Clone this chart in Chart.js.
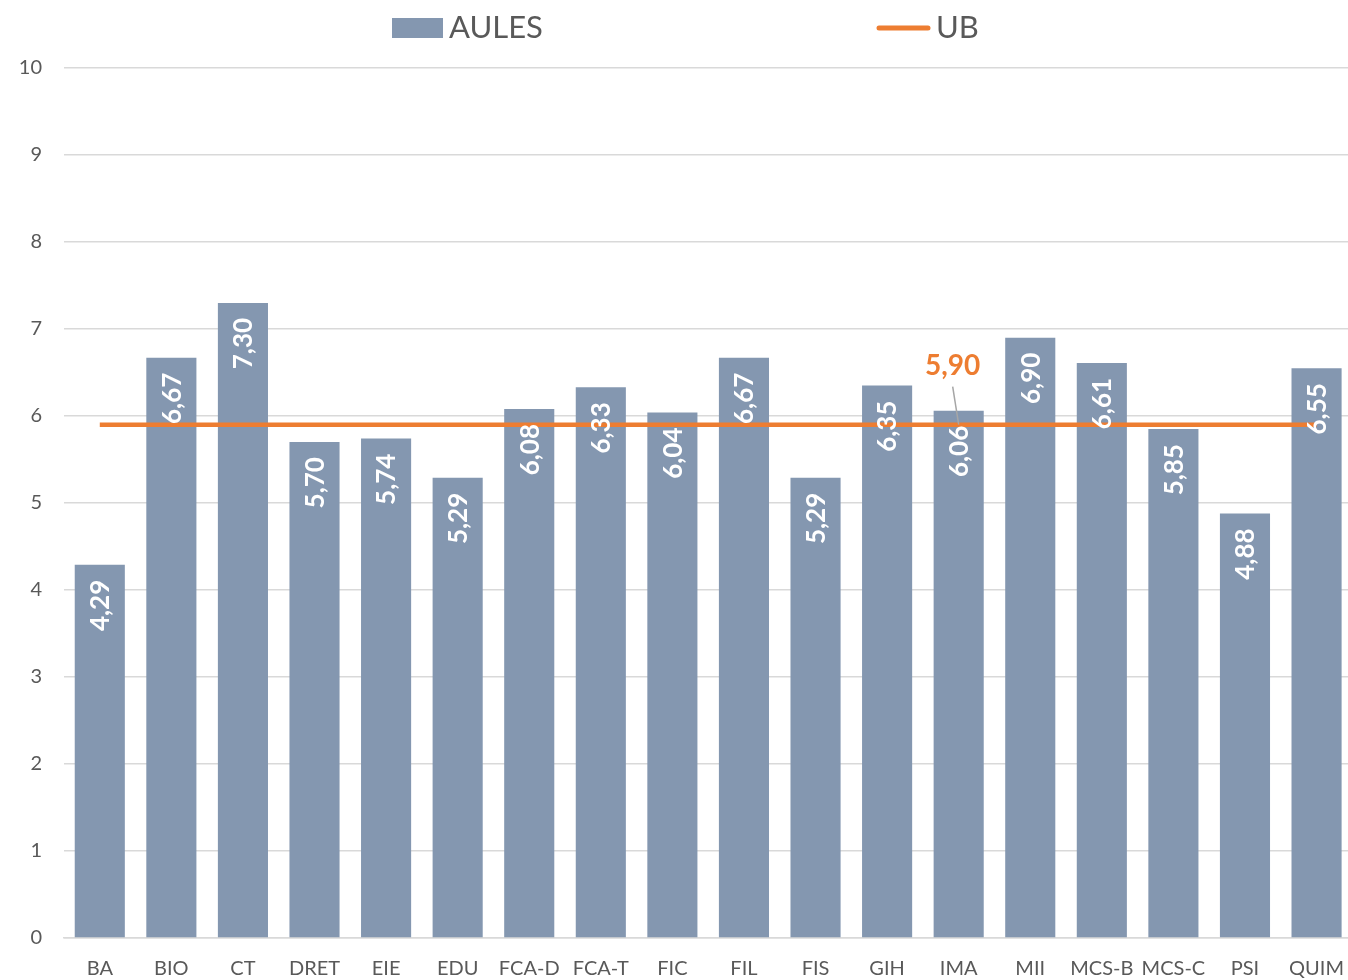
<!DOCTYPE html>
<html lang="ca">
<head>
    <meta charset="UTF-8">
    <title>AULES vs UB</title>
    <script src="https://cdn.jsdelivr.net/npm/chart.js@4/dist/chart.umd.min.js"></script>
    <style>
        html, body { margin: 0; padding: 0; background: #fff; overflow: hidden; }
        .graf { width: 1348px; height: 980px; overflow: hidden; }
    </style>
</head>
<body>
    <div class="graf">
        <!-- una mica més ample: a l'original l'àrea del gràfic surt del marge dret -->
        <canvas id="canvas_grafico" width="1355" height="980"></canvas>
    </div>

<script>
    // dades llegides del gràfic
    const categories = ['BA', 'BIO', 'CT', 'DRET', 'EIE', 'EDU', 'FCA-D', 'FCA-T', 'FIC',
        'FIL', 'FIS', 'GIH', 'IMA', 'MII', 'MCS-B', 'MCS-C', 'PSI', 'QUIM'];
    const aules = [4.29, 6.67, 7.30, 5.70, 5.74, 5.29, 6.08, 6.33, 6.04,
        6.67, 5.29, 6.35, 6.06, 6.90, 6.61, 5.85, 4.88, 6.55];
    const ub = [5.90, 5.90, 5.90, 5.90, 5.90, 5.90, 5.90, 5.90, 5.90,
        5.90, 5.90, 5.90, 5.90, 5.90, 5.90, 5.90, 5.90, 5.90];
    const ubEtiquetaIdx = 12; // on surt l'etiqueta "5,90"

    const FONT = 'Lato, "Open Sans", sans-serif';
    const GRIS = '#595959';

    function coma(v) {
        return v.toFixed(2).replace('.', ',');
    }

    // etiquetes dins les barres + etiqueta de la línia + llegenda
    const etiquetes = {
        id: 'etiquetes',
        afterDatasetsDraw(chart) {
            const ctx = chart.ctx;
            const metaBar = chart.getDatasetMeta(0);
            ctx.save();
            ctx.fillStyle = '#ffffff';
            ctx.font = 'bold 26px ' + FONT;
            ctx.textAlign = 'right';
            ctx.textBaseline = 'middle';
            metaBar.data.forEach(function (bar, i) {
                ctx.save();
                ctx.translate(bar.x + 1, bar.y + 15);
                ctx.rotate(-Math.PI / 2);
                ctx.fillText(coma(aules[i]), 0, 0);
                ctx.restore();
            });

            // etiqueta UB amb línia guia
            const pt = chart.getDatasetMeta(1).data[ubEtiquetaIdx];
            ctx.strokeStyle = '#A6A6A6';
            ctx.lineWidth = 1.5;
            ctx.beginPath();
            ctx.moveTo(pt.x - 6, pt.y - 38);
            ctx.lineTo(pt.x, pt.y);
            ctx.stroke();
            ctx.fillStyle = '#ED7D31';
            ctx.font = 'bold 28px ' + FONT;
            ctx.textAlign = 'center';
            ctx.textBaseline = 'middle';
            ctx.fillText(coma(ub[ubEtiquetaIdx]), pt.x - 6, pt.y - 59);
            ctx.restore();

            // llegenda
            ctx.save();
            ctx.font = '31px ' + FONT;
            ctx.textBaseline = 'middle';
            ctx.textAlign = 'left';
            ctx.fillStyle = '#8497B0';
            ctx.fillRect(392, 18, 51, 20);
            ctx.fillStyle = GRIS;
            ctx.fillText(chart.data.datasets[0].label, 449, 28);
            ctx.strokeStyle = '#ED7D31';
            ctx.lineWidth = 5;
            ctx.lineCap = 'round';
            ctx.beginPath();
            ctx.moveTo(879, 28);
            ctx.lineTo(928, 28);
            ctx.stroke();
            ctx.fillText(chart.data.datasets[1].label, 936, 28);
            ctx.restore();
        }
    };

    const config = {
        type: 'bar',
        data: {
            labels: categories,
            datasets: [
                {
                    label: 'AULES',
                    data: aules,
                    backgroundColor: '#8497B0',
                    barPercentage: 0.7,
                    categoryPercentage: 1,
                    order: 1
                },
                {
                    type: 'line',
                    label: 'UB',
                    data: ub,
                    borderColor: '#ED7D31',
                    backgroundColor: '#ED7D31',
                    borderWidth: 4.5,
                    pointRadius: 0,
                    order: 0
                }
            ]
        },
        options: {
            responsive: false,
            animation: false,
            layout: { padding: { top: 68, right: 0, left: 0, bottom: 0 } },
            plugins: {
                legend: { display: false },
                tooltip: { enabled: false }
            },
            scales: {
                x: {
                    grid: { display: false },
                    border: { display: true, color: '#D9D9D9', width: 1.5 },
                    ticks: { color: GRIS, font: { family: FONT, size: 20 }, padding: 11, maxRotation: 0, autoSkip: false },
                    afterFit: function (s) { s.height = 42; }
                },
                y: {
                    min: 0,
                    max: 10,
                    ticks: { stepSize: 1, color: GRIS, font: { family: FONT, size: 20 }, padding: 22 },
                    grid: { color: '#D9D9D9', lineWidth: 1.5, drawTicks: false },
                    border: { display: false },
                    afterFit: function (s) { s.width = 64; }
                }
            }
        },
        plugins: [etiquetes]
    };

    new Chart(document.getElementById('canvas_grafico'), config);
</script>
</body>
</html>
